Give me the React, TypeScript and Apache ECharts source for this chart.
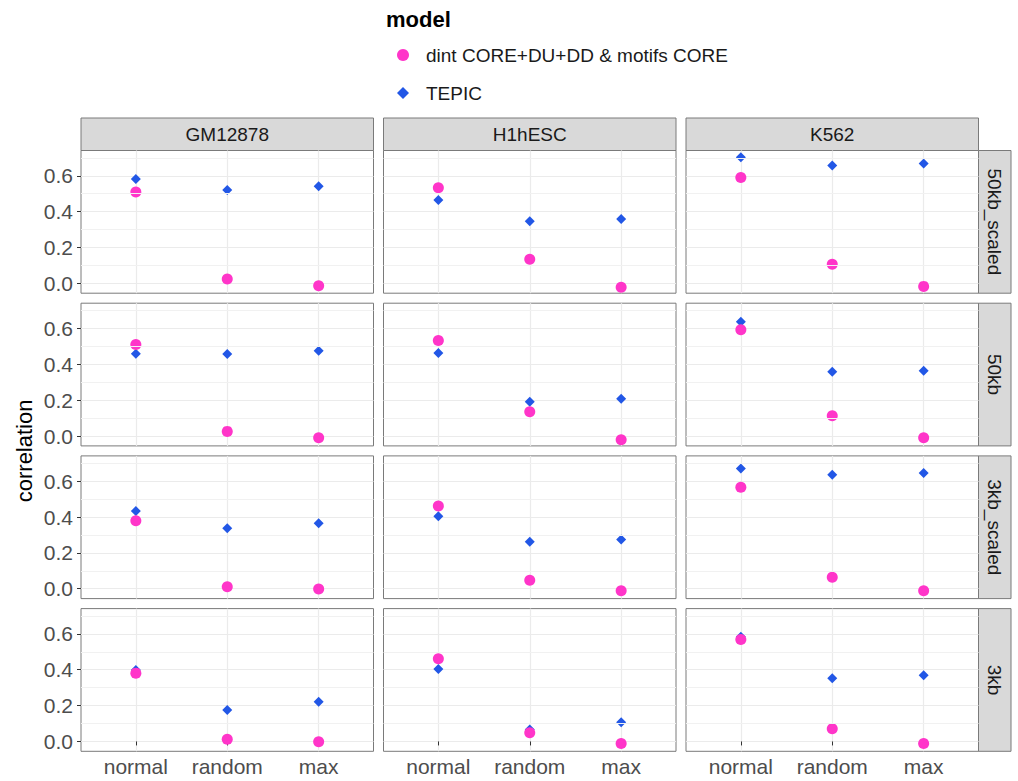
import React, { useEffect, useRef } from 'react';
import * as echarts from 'echarts';

const cellLines = ['GM12878', 'H1hESC', 'K562'];
const windowSets = ['50kb_scaled', '50kb', '3kb_scaled', '3kb'];
const methods = ['normal', 'random', 'max'];
const modelNames = ['dint CORE+DU+DD & motifs CORE', 'TEPIC'];
const yTicks = [0, 0.2, 0.4, 0.6];
const yMinorTicks = [0.1, 0.3, 0.5, 0.7];
const methodPositions = [1, 2, 3];

// each array: rows GM12878, H1hESC, K562; columns normal, random, max
const dint50kbScaled = [[0.509, 0.024, -0.013], [0.533, 0.134, -0.022], [0.591, 0.106, -0.017]];
const tepic50kbScaled = [[0.582, 0.52, 0.541], [0.465, 0.347, 0.359], [0.704, 0.658, 0.669]];
const dint50kb = [[0.51, 0.026, -0.01], [0.533, 0.136, -0.021], [0.593, 0.113, -0.01]];
const tepic50kb = [[0.459, 0.457, 0.476], [0.463, 0.191, 0.208], [0.637, 0.359, 0.364]];
const dint3kbScaled = [[0.379, 0.011, -0.002], [0.461, 0.047, -0.011], [0.566, 0.064, -0.011]];
const tepic3kbScaled = [[0.433, 0.337, 0.365], [0.405, 0.262, 0.275], [0.671, 0.636, 0.645]];
const dint3kb = [[0.381, 0.012, -0.002], [0.461, 0.049, -0.011], [0.569, 0.071, -0.011]];
const tepic3kb = [[0.398, 0.175, 0.222], [0.404, 0.067, 0.107], [0.584, 0.352, 0.369]];

const dintByRow = [dint50kbScaled, dint50kb, dint3kbScaled, dint3kb];
const tepicByRow = [tepic50kbScaled, tepic50kb, tepic3kbScaled, tepic3kb];

const FONT = '"Liberation Sans", Arial, Helvetica, sans-serif';
const PINK = '#FF35C9';
const BLUE = '#2257E6';
const BORDER = '#7A7A7A';
const STRIP_BG = '#D9D9D9';
const GRID_MAJOR = '#EBEBEB';
const GRID_MINOR = '#F1F1F1';

const Y_MIN = -0.055;
const Y_MAX = 0.741;
const X_MIN = 0.4;
const X_MAX = 3.6;

const panelLefts = [81, 383.5, 686];
const panelWidth = 292.5;
const panelTops = [150.5, 303.2, 455.9, 608.6];
const panelHeight = 142.7;
const stripSize = 32.5;

export default function App() {
  const ref = useRef<HTMLDivElement>(null);

  useEffect(() => {
    if (!ref.current) return;
    const chart = echarts.init(ref.current, undefined, { renderer: 'svg' });

    const grids: any[] = [];
    const xAxes: any[] = [];
    const yAxes: any[] = [];
    const series: any[] = [];
    const graphics: any[] = [];

    windowSets.forEach((ws, r) => {
      cellLines.forEach((cl, c) => {
        const g = r * 3 + c;
        grids.push({
          left: panelLefts[c],
          top: panelTops[r],
          width: panelWidth,
          height: panelHeight,
          show: true,
          backgroundColor: '#ffffff',
          borderColor: BORDER,
          borderWidth: 1,
        });
        const bottomRow = r === windowSets.length - 1;
        const leftCol = c === 0;
        xAxes.push({
          type: 'value',
          gridIndex: g,
          min: X_MIN,
          max: X_MAX,
          axisLine: { show: false },
          axisTick: {
            show: bottomRow,
            customValues: methodPositions,
            length: 4,
            lineStyle: { color: '#333333', width: 1 },
          },
          axisLabel: {
            show: bottomRow,
            customValues: methodPositions,
            formatter: (v: number) => methods[Math.round(v) - 1] ?? '',
            fontSize: 21,
            color: '#4D4D4D',
            fontFamily: FONT,
            margin: 5,
          },
          splitLine: { show: true, lineStyle: { color: GRID_MAJOR, width: 1.2 } },
        });
        yAxes.push({
          type: 'value',
          gridIndex: g,
          min: Y_MIN,
          max: Y_MAX,
          axisLine: { show: false },
          axisTick: {
            show: leftCol,
            customValues: yTicks,
            length: 4,
            lineStyle: { color: '#333333', width: 1 },
          },
          axisLabel: {
            show: leftCol,
            customValues: yTicks,
            formatter: (v: number) => v.toFixed(1),
            fontSize: 21,
            color: '#4D4D4D',
            fontFamily: FONT,
            margin: 8,
          },
          splitLine: { show: true, lineStyle: { color: GRID_MAJOR, width: 1.2 } },
        });

        series.push({
          type: 'scatter',
          name: 'minor-grid',
          xAxisIndex: g,
          yAxisIndex: g,
          data: [],
          silent: true,
          z: 1,
          markLine: {
            silent: true,
            symbol: ['none', 'none'],
            label: { show: false },
            lineStyle: { color: GRID_MINOR, width: 1, type: 'solid' },
            emphasis: { disabled: true },
            data: yMinorTicks.map((v) => ({ yAxis: v })),
          },
        });
        series.push({
          type: 'scatter',
          name: modelNames[1],
          xAxisIndex: g,
          yAxisIndex: g,
          symbol: 'diamond',
          symbolSize: 10,
          itemStyle: { color: BLUE, opacity: 1 },
          z: 3,
          data: tepicByRow[r][c].map((v, i) => [methodPositions[i], v]),
        });
        series.push({
          type: 'scatter',
          name: modelNames[0],
          xAxisIndex: g,
          yAxisIndex: g,
          symbol: 'circle',
          symbolSize: 11,
          itemStyle: { color: PINK, opacity: 1 },
          z: 3,
          data: dintByRow[r][c].map((v, i) => [methodPositions[i], v]),
        });
      });
    });

    // top strips
    cellLines.forEach((cl, c) => {
      graphics.push({
        type: 'rect',
        shape: { x: panelLefts[c], y: panelTops[0] - stripSize, width: panelWidth, height: stripSize },
        style: { fill: STRIP_BG, stroke: BORDER, lineWidth: 1 },
        silent: true,
      });
      graphics.push({
        type: 'text',
        x: panelLefts[c] + panelWidth / 2,
        y: panelTops[0] - stripSize / 2,
        style: {
          text: cl,
          fill: '#1A1A1A',
          fontSize: 19,
          fontFamily: FONT,
          align: 'center',
          verticalAlign: 'middle',
        },
        silent: true,
      });
    });
    // right strips
    const stripX = panelLefts[2] + panelWidth;
    windowSets.forEach((ws, r) => {
      graphics.push({
        type: 'rect',
        shape: { x: stripX, y: panelTops[r], width: stripSize, height: panelHeight },
        style: { fill: STRIP_BG, stroke: BORDER, lineWidth: 1 },
        silent: true,
      });
      graphics.push({
        type: 'text',
        x: stripX + stripSize / 2,
        y: panelTops[r] + panelHeight / 2,
        rotation: -Math.PI / 2,
        style: {
          text: ws,
          fill: '#1A1A1A',
          fontSize: 19,
          fontFamily: FONT,
          align: 'center',
          verticalAlign: 'middle',
        },
        silent: true,
      });
    });
    // y axis title
    graphics.push({
      type: 'text',
      x: 24,
      y: (panelTops[0] + panelTops[3] + panelHeight) / 2,
      rotation: Math.PI / 2,
      style: {
        text: 'correlation',
        fill: '#000000',
        fontSize: 22,
        fontFamily: FONT,
        align: 'center',
        verticalAlign: 'middle',
      },
      silent: true,
    });

    chart.setOption({
      animation: false,
      backgroundColor: '#ffffff',
      title: {
        text: 'model',
        left: 386,
        top: 8,
        padding: 0,
        textStyle: { fontSize: 22, fontWeight: 'bold', color: '#000000', fontFamily: FONT },
      },
      legend: {
        orient: 'vertical',
        left: 397,
        top: 43,
        padding: 0,
        itemWidth: 12,
        itemHeight: 12,
        itemGap: 14,
        selectedMode: false,
        data: [
          { name: modelNames[0], icon: 'circle' },
          { name: modelNames[1], icon: 'diamond' },
        ],
        textStyle: {
          fontSize: 19,
          color: '#1A1A1A',
          fontFamily: FONT,
          lineHeight: 24,
          padding: [0, 0, 0, 12],
        },
      },
      grid: grids,
      xAxis: xAxes,
      yAxis: yAxes,
      series,
      graphic: graphics,
    });

    return () => {
      chart.dispose();
    };
  }, []);

  return (
    <div
      ref={ref}
      style={{ position: 'fixed', left: 0, top: 0, width: 1018, height: 781, background: '#fff' }}
    />
  );
}
